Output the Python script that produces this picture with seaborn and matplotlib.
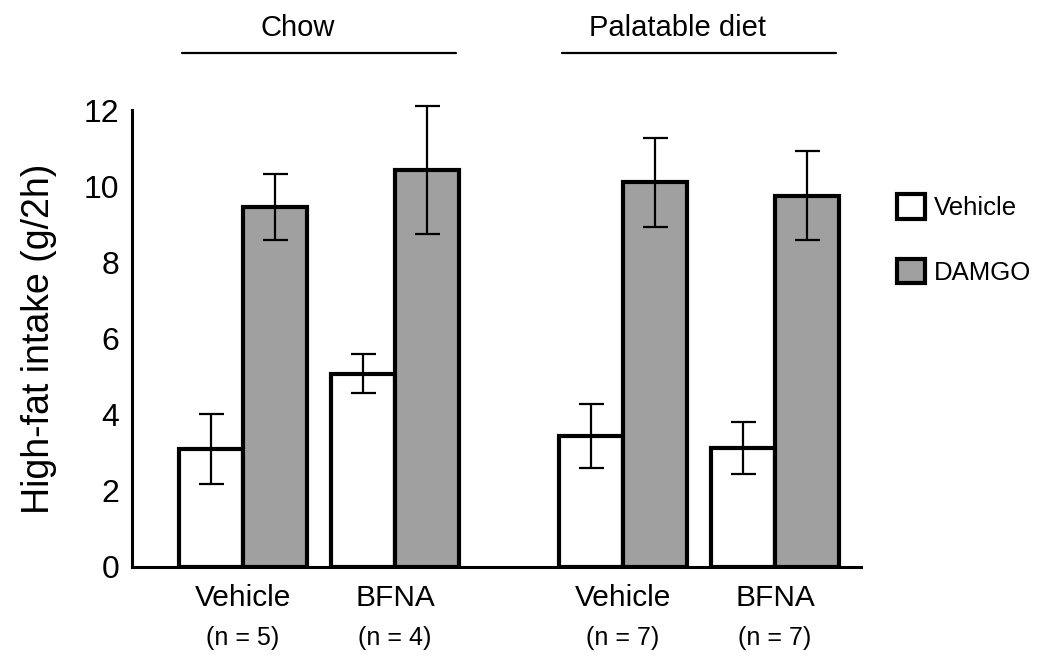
import numpy as np
import pandas as pd
import seaborn as sns
import matplotlib.pyplot as plt
from matplotlib.patches import Patch

# values
diets = ['Chow', 'Palatable diet']
pretreatments = ['Vehicle', 'BFNA', 'Vehicle', 'BFNA']
n_labels = ['(n = 5)', '(n = 4)', '(n = 7)', '(n = 7)']
vehicle_means = [3.1, 5.08, 3.45, 3.12]
vehicle_sem = [0.93, 0.51, 0.84, 0.68]
damgo_means = [9.45, 10.43, 10.1, 9.75]
damgo_sem = [0.86, 1.68, 1.17, 1.17]
treatments = ['Vehicle', 'DAMGO']

# layout: a wider gap between the two diet blocks
group_x = [0, 1, 2.5, 3.5]

rows = []
for i, x in enumerate(group_x):
    rows.append({'x': x, 'Treatment': 'Vehicle', 'intake': vehicle_means[i], 'sem': vehicle_sem[i]})
    rows.append({'x': x, 'Treatment': 'DAMGO', 'intake': damgo_means[i], 'sem': damgo_sem[i]})
df = pd.DataFrame(rows)

sns.set_style('white')
plt.rcParams['font.family'] = ['Liberation Sans', 'DejaVu Sans']
plt.rcParams['text.color'] = 'black'
plt.rcParams['axes.labelcolor'] = 'black'
plt.rcParams['ytick.color'] = 'black'

colors = {'Vehicle': 'white', 'DAMGO': '#a0a0a0'}

fig, ax = plt.subplots(figsize=(10.5, 6.63), dpi=100)
fig.subplots_adjust(left=0.1257, right=0.82, bottom=0.1448, top=0.834)

sns.barplot(data=df, x='x', y='intake', hue='Treatment', hue_order=treatments,
            palette=colors, native_scale=True, width=0.84, errorbar=None,
            edgecolor='black', linewidth=3, legend=False, ax=ax)

# error bars on top of each bar
for container, level in zip(ax.containers, treatments):
    sub = df[df['Treatment'] == level].sort_values('x')
    bars = sorted(container.patches, key=lambda p: p.get_x())
    for bar, err in zip(bars, sub['sem']):
        cx = bar.get_x() + bar.get_width() / 2
        eb = ax.errorbar(cx, bar.get_height(), yerr=err, color='black',
                         elinewidth=1.6, capsize=9, capthick=1.6, zorder=5)
        for art in eb.lines[1] + eb.lines[2]:
            art.set_clip_on(False)

ax.set_xlim(-0.73, 4.066)
ax.set_ylim(0, 12)
ax.set_yticks(np.arange(0, 13, 2))
ax.set_xticks([])
ax.set_xlabel('')
ax.set_ylabel('High-fat intake (g/2h)', fontsize=27)
ax.yaxis.set_label_coords(-0.103, 0.5)
ax.tick_params(axis='y', direction='in', length=9, width=2, labelsize=23, pad=9)
for side in ['top', 'right']:
    ax.spines[side].set_visible(False)
for side in ['left', 'bottom']:
    ax.spines[side].set_linewidth(2.2)
    ax.spines[side].set_color('black')

trans = ax.get_xaxis_transform()
for x, name, n in zip(group_x, pretreatments, n_labels):
    ax.text(x, -0.068, name, transform=trans, ha='center', va='center', fontsize=21.5)
    ax.text(x, -0.155, n, transform=trans, ha='center', va='center', fontsize=18)

# diet headings with lines
for k, diet in enumerate(diets):
    x0, x1 = group_x[2 * k], group_x[2 * k + 1]
    ax.plot([x0 - 0.4, x1 + 0.4], [1.125, 1.125], color='black', lw=1.6,
            transform=trans, clip_on=False)
    ax.text(x0 + 0.36, 1.18, diet, transform=trans, ha='center', va='center', fontsize=21)

handles = [Patch(facecolor=colors[t], edgecolor='black', linewidth=3) for t in treatments]
fig.legend(handles, treatments, loc='upper left', bbox_to_anchor=(897 / 1050, 1 - 194 / 663),
           frameon=False, fontsize=18.5, handlelength=1.1, handleheight=1.1,
           handletextpad=0.35, labelspacing=1.5, borderpad=0, borderaxespad=0)

fig.savefig('out.png', dpi=100)
